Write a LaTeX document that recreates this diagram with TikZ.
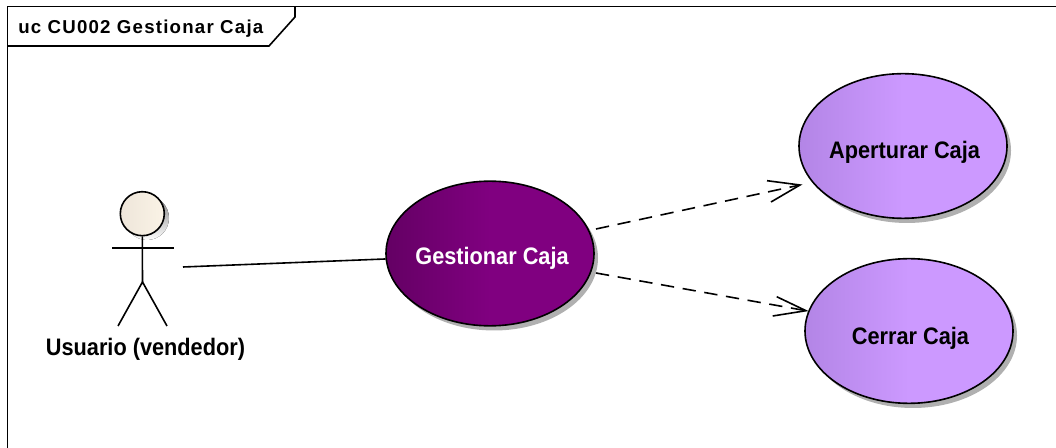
\documentclass[tikz,border=0pt]{standalone}
\usepackage{fontspec}
\setmainfont{Liberation Sans}
\newfontfamily\ucfont[FakeStretch=0.91]{Liberation Sans}
\newfontfamily\titlefont[LetterSpace=6.5]{Liberation Sans}
\usetikzlibrary{arrows.meta,shapes.geometric}
\definecolor{gcdark}{HTML}{640064}
\definecolor{gcmain}{HTML}{800080}
\definecolor{lvdark}{HTML}{B385E6}
\definecolor{lvmain}{HTML}{CC99FF}
\definecolor{headl}{HTML}{EEE6DA}
\definecolor{headm}{HTML}{FAF3E6}
\definecolor{shade}{HTML}{B0B0B0}
\tikzset{
  x=0.75pt,y=-0.75pt,
  uc/.style={ellipse,draw=black,line width=1.2pt,minimum width=156pt,minimum height=108.5pt,inner sep=0pt,align=center},
  uctext/.style={font=\ucfont\fontsize{17.9}{20}\bfseries,inner sep=0pt},
  ucshadow/.style={fill=shade,draw=none},
  wire/.style={line width=1.2pt,black},
  dep/.style={wire,dash pattern=on 10pt off 6.5pt},
  framel/.style={line width=1.2pt},
}
\begin{document}
\begin{tikzpicture}
\useasboundingbox (0,0) rectangle (1056,448);
\fill[white] (0,0) rectangle (1056,448);
% frame: only the top and left edges are shown
\coordinate (fa) at (7.3,6.5);
\coordinate (fb) at (1056,6.5);
\coordinate (fd) at (7.3,448);
\draw[framel] (fb) -- (fa) -- (fd);
\draw[framel] (7.3,46) -- (269,46) -- (295,17) -- (295,6.5);
\node[anchor=west,inner sep=0pt,font=\titlefont\fontsize{14}{16}\bfseries] (title) at (18,28.5) {uc CU002 Gestionar Caja};
% shadows
\fill[ucshadow] (494,258) ellipse [x radius=104,y radius=72.5];
\fill[ucshadow] (907,150.5) ellipse [x radius=104,y radius=72.5];
\fill[ucshadow] (913,335.5) ellipse [x radius=104,y radius=72.5];
% use cases
\node[uc,left color=gcdark,right color=gcmain,middle color=gcmain] (g) at (490,253.5) {};
\node[uc,left color=lvdark,right color=lvmain,middle color=lvmain] (a) at (903,146) {};
\node[uc,left color=lvdark,right color=lvmain,middle color=lvmain] (c) at (909,331) {};
\node[uctext,text=white] (gt) at (492,258) {Gestionar Caja};
\node[uctext] (at) at (904.5,152) {Aperturar Caja};
\node[uctext] (ct) at (910.5,338) {Cerrar Caja};
% actor
\fill[shade] (147,218) circle [radius=22];
\node[circle,draw=black,line width=1.2pt,minimum size=33pt,inner sep=0pt,left color=headl,right color=headm] (head) at (142.3,213.7) {};
\coordinate (neck) at (142.5,282);
\coordinate (armL) at (112,248);
\coordinate (armR) at (174,248);
\coordinate (legL) at (118,326);
\coordinate (legR) at (167,326);
\draw[wire] (head.south) -- (neck);
\draw[wire] (armL) -- (armR);
\draw[wire] (legL) -- (neck) -- (legR);
\node[uctext] (actorlabel) at (145.5,349) {Usuario (vendedor)};
% connectors
\coordinate (actorend) at (183,267);
\draw[wire] (actorend) -- (g.183);
\coordinate (gu) at (596,229);
\coordinate (gd) at (596,273);
\coordinate (au) at (800,185);
\coordinate (cu) at (806,310.7);
\draw[dep] (gu) -- (au);
\draw[wire] (767,180.7) -- (au) -- (771,202);
\draw[dep] (gd) -- (cu);
\draw[wire] (776.7,296.7) -- (cu) -- (772.7,316);
\end{tikzpicture}
\end{document}
